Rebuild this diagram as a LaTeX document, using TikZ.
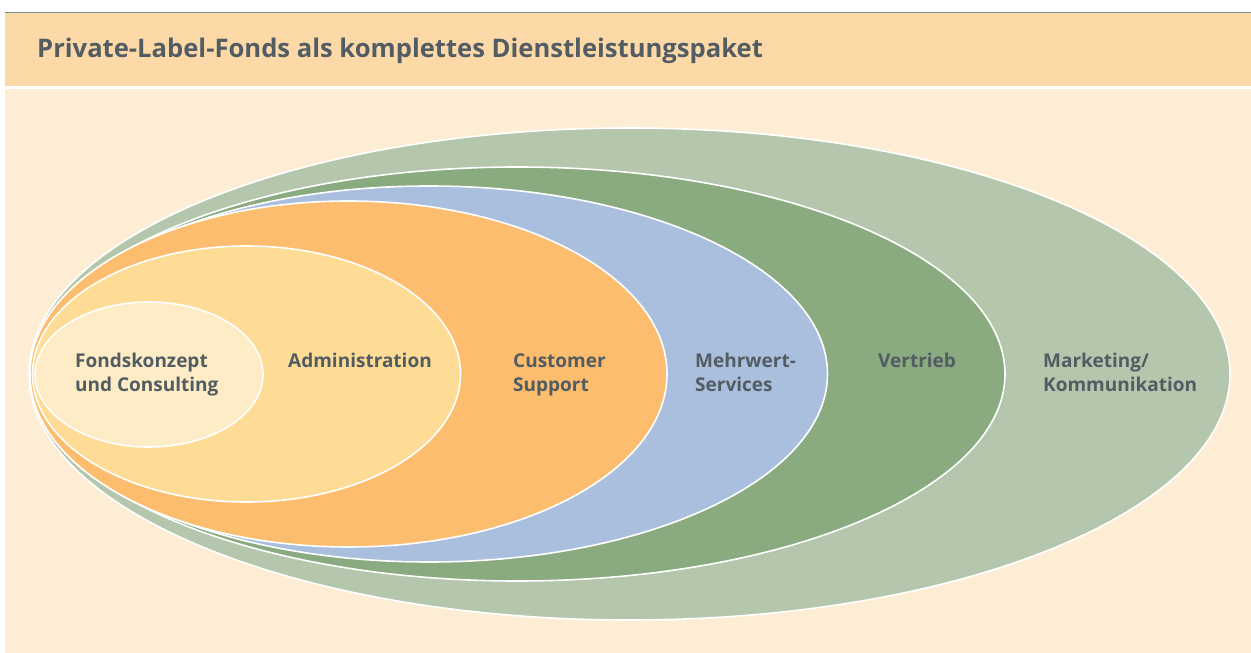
\documentclass[tikz,border=0pt]{standalone}
\usepackage{fontspec}
\setmainfont{Open Sans}
\definecolor{topline}{HTML}{7D8A93}
\definecolor{headbg}{HTML}{FED9A8}
\definecolor{bodybg}{HTML}{FDEDD5}
\definecolor{cgreenl}{HTML}{B4C7AD}
\definecolor{cgreend}{HTML}{8AAA80}
\definecolor{cblue}{HTML}{AABFDD}
\definecolor{corange}{HTML}{FDBD6E}
\definecolor{cyellow}{HTML}{FEDC95}
\definecolor{cpale}{HTML}{FDECC5}
\definecolor{txt}{HTML}{525C63}
\begin{document}
\begin{tikzpicture}[x=1pt,y=-1pt,
  ring/.style={draw=white,line width=1.6pt},
  lbl/.style={font=\bfseries\fontsize{19}{24}\selectfont,text=txt,align=left,anchor=north west,inner sep=0pt}]
\useasboundingbox (0,0) rectangle (1251,653);
\fill[white] (0,0) rectangle (1251,653);
\fill[headbg] (5,13) rectangle (1251,86);
\draw[topline,line width=1.5pt] (5,12.5) -- (1251,12.5);
\fill[bodybg] (5,89) rectangle (1251,653);
\node[font=\bfseries\fontsize{25.6}{30}\selectfont,text=txt,anchor=base west,inner sep=0pt] (title) at (37,57) {Private-Label-Fonds als komplettes Dienstleistungspaket};
\filldraw[ring,fill=cgreenl] (629.5,374) ellipse [x radius=600.5,y radius=246];
\filldraw[ring,fill=cgreend] (517.5,374) ellipse [x radius=487.5,y radius=207];
\filldraw[ring,fill=cblue] (429,374) ellipse [x radius=398.5,y radius=188];
\filldraw[ring,fill=corange] (348.5,374) ellipse [x radius=318.5,y radius=173];
\filldraw[ring,fill=cyellow] (246.5,374) ellipse [x radius=214,y radius=128];
\filldraw[ring,fill=cpale] (149,374.5) ellipse [x radius=114,y radius=72.5];
\node[lbl] (fonds) at (75,350) {\strut Fondskonzept\\und Consulting};
\node[lbl] (admin) at (288,350) {\strut Administration};
\node[lbl] (cust) at (513,350) {\strut Customer\\Support};
\node[lbl] (mehr) at (695,350) {\strut Mehrwert-\\Services};
\node[lbl] (vert) at (878,350) {\strut Vertrieb};
\node[lbl] (mark) at (1043,350) {\strut Marketing/\\Kommunikation};
\end{tikzpicture}
\end{document}
